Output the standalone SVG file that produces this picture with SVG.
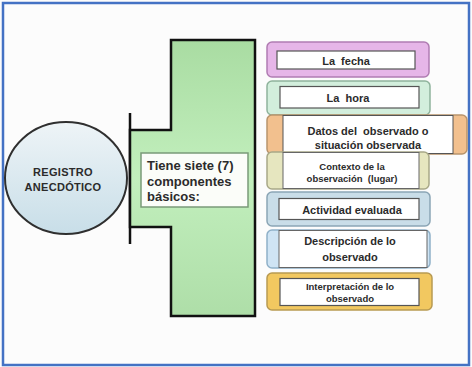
<svg xmlns="http://www.w3.org/2000/svg" width="472" height="367" viewBox="0 0 472 367">
<defs>
<linearGradient id="gGreen" x1="0" y1="0" x2="0" y2="1">
<stop offset="0" stop-color="#a9dca2"/>
<stop offset="0.5" stop-color="#c2efbd"/>
<stop offset="1" stop-color="#aedea8"/>
</linearGradient>
<linearGradient id="gCircle" x1="0" y1="0" x2="0" y2="1">
<stop offset="0" stop-color="#eef4f7"/>
<stop offset="1" stop-color="#c8dee8"/>
</linearGradient>
<style>
.t{font-family:"Liberation Sans",Arial,sans-serif;font-weight:bold;fill:#2b2b2b;text-anchor:middle;white-space:pre}
.l{text-anchor:start}
.inner{fill:#ffffff;stroke:#555;stroke-width:1.2}
</style>
</defs>
<rect x="0" y="0" width="472" height="367" fill="#fcfcfc"/>
<rect x="3" y="3" width="466" height="362" fill="none" stroke="#4472c4" stroke-width="2.5"/>

<g id="registro">
<ellipse cx="66" cy="178" rx="61" ry="56" fill="url(#gCircle)" stroke="#2f2f2f" stroke-width="2"/>
<text class="t" x="63" y="175.5" font-size="11" letter-spacing="0.3" fill="#333">REGISTRO</text>
<text class="t" x="63" y="191" font-size="11" letter-spacing="0.3" fill="#333">ANECDÓTICO</text>
</g>

<g id="conector">
<line x1="130" y1="113" x2="130" y2="244" stroke="#111" stroke-width="2.5"/>
</g>

<g id="componentes">
<path d="M171 40 H255 V316 H171 V227 H130 V130 H171 Z" fill="url(#gGreen)" stroke="#111" stroke-width="2.5" stroke-linejoin="miter"/>
<rect x="141" y="153" width="107" height="54" fill="#fbfdf9" stroke="#7a9a78" stroke-width="1.5"/>
<text class="t l" x="147" y="170" font-size="13">Tiene siete (7)</text>
<text class="t l" x="147" y="185.5" font-size="13">componentes</text>
<text class="t l" x="147" y="201" font-size="13">básicos:</text>
</g>

<g id="fecha">
<rect x="267" y="42" width="162" height="35" rx="5" fill="#e6b6e8" stroke="#b07cb2" stroke-width="1.5"/>
<rect class="inner" x="277" y="51" width="138" height="18"/>
<text class="t" x="346" y="64.5" font-size="11" xml:space="preserve">La  fecha</text>
</g>

<g id="hora">
<rect x="267" y="81" width="163" height="34" rx="5" fill="#d2eedc" stroke="#8fb39c" stroke-width="1.5"/>
<rect class="inner" x="280" y="86.5" width="139" height="21.5"/>
<text class="t" x="348" y="101.5" font-size="11" xml:space="preserve">La  hora</text>
</g>

<g id="datos">
<rect x="267" y="115" width="200" height="39" rx="5" fill="#f2c08e" stroke="#b8946c" stroke-width="1.5"/>
<rect x="283" y="115.5" width="170" height="38" fill="#ffffff" stroke="#555" stroke-width="1"/>
<text class="t" x="368" y="135" font-size="11" xml:space="preserve">Datos del  observado o</text>
<text class="t" x="368" y="148.5" font-size="11">situación observada</text>
</g>

<g id="contexto">
<rect x="267" y="152" width="162" height="37" rx="5" fill="#e6e6bf" stroke="#a8a888" stroke-width="1.5"/>
<rect x="283" y="152.5" width="136" height="36" fill="#ffffff" stroke="#666" stroke-width="1"/>
<text class="t" x="352" y="170" font-size="9.5">Contexto de la</text>
<text class="t" x="352" y="181.5" font-size="9.5" xml:space="preserve">observación  (lugar)</text>
</g>

<g id="actividad">
<rect x="267" y="192" width="163" height="34" rx="5" fill="#c9dde8" stroke="#8ba5b5" stroke-width="1.5"/>
<rect class="inner" x="279" y="198.5" width="140" height="21"/>
<text class="t" x="352" y="213.5" font-size="11">Actividad evaluada</text>
</g>

<g id="descripcion">
<rect x="267" y="230" width="163" height="38" rx="5" fill="#cfe4f4" stroke="#8fb0c8" stroke-width="1.5"/>
<rect x="279" y="230.5" width="148" height="37" fill="#ffffff" stroke="#666" stroke-width="1"/>
<text class="t" x="350" y="245" font-size="11">Descripción de lo</text>
<text class="t" x="350" y="260.5" font-size="11">observado</text>
</g>

<g id="interpretacion">
<rect x="267" y="273" width="165" height="37" rx="5" fill="#f2c860" stroke="#b89a52" stroke-width="1.5"/>
<rect class="inner" x="280" y="278.5" width="139" height="27"/>
<text class="t" x="350" y="290" font-size="9.5">Interpretación de lo</text>
<text class="t" x="350" y="301.5" font-size="9.5">observado</text>
</g>
</svg>
